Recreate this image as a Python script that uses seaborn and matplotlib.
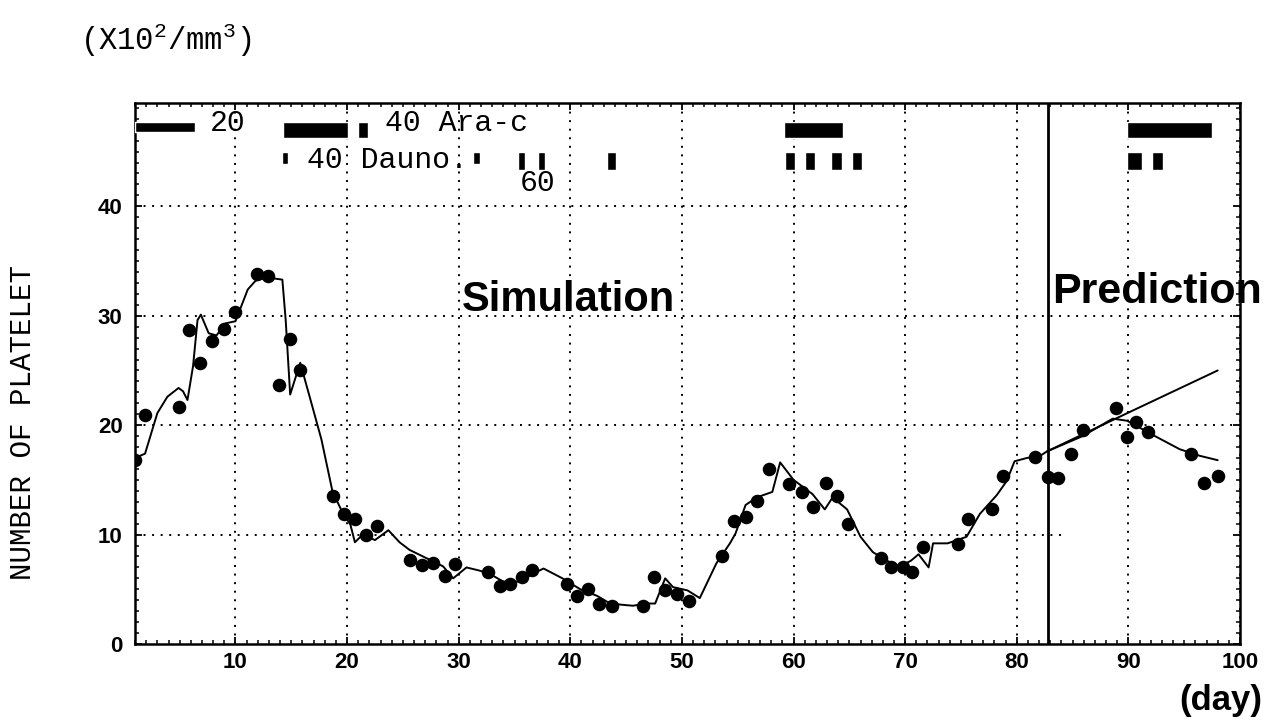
import matplotlib
matplotlib.use("Agg")
import matplotlib.pyplot as plt
from matplotlib.ticker import MultipleLocator, FixedLocator
import pandas as pd
import seaborn as sns

# Observed platelet counts (x10^2/mm^3) by day
obs_day = [1.0, 1.9, 4.9, 5.8, 6.8, 7.9, 9.0, 10.0, 11.9, 12.9, 13.9, 14.9, 15.8,
           18.7, 19.7, 20.7, 21.7, 22.7, 25.6, 26.7, 27.7, 28.8, 29.7, 32.6, 33.7,
           34.6, 35.7, 36.6, 39.7, 40.6, 41.6, 42.6, 43.7, 46.5, 47.5, 48.5, 49.6,
           50.6, 53.6, 54.7, 55.7, 56.7, 57.8, 59.6, 60.8, 61.7, 62.9, 63.9, 64.9,
           67.8, 68.7, 69.8, 70.6, 71.6, 74.7, 75.6, 77.8, 78.8, 81.6, 82.8, 83.7,
           84.9, 85.9, 88.9, 89.9, 90.7, 91.8, 95.6, 96.8, 98.0]
obs_count = [16.8, 20.9, 21.7, 28.7, 25.7, 27.7, 28.8, 30.3, 33.8, 33.6, 23.7, 27.9, 25.0,
             13.5, 11.9, 11.4, 10.0, 10.8, 7.7, 7.2, 7.4, 6.2, 7.3, 6.6, 5.3,
             5.5, 6.1, 6.8, 5.5, 4.4, 5.0, 3.7, 3.5, 3.5, 6.1, 4.9, 4.6,
             3.9, 8.0, 11.2, 11.6, 13.1, 16.0, 14.6, 13.9, 12.5, 14.7, 13.5, 11.0,
             7.9, 7.0, 7.0, 6.6, 8.9, 9.1, 11.4, 12.3, 15.4, 17.1, 15.3, 15.2,
             17.4, 19.6, 21.6, 18.9, 20.3, 19.4, 17.4, 14.7, 15.4]

# Simulated course
sim_day = [1.0, 1.9, 3.0, 3.9, 4.9, 5.3, 5.7, 6.2, 6.6, 6.9, 7.6, 8.3, 9.1, 10.0,
           11.1, 11.8, 12.8, 14.2, 14.5, 14.9, 15.8, 16.7, 17.7, 18.7, 19.6, 20.3,
           20.7, 21.4, 22.5, 23.7, 24.7, 25.6, 28.6, 29.5, 30.7, 31.9, 32.8, 34.0,
           35.5, 36.6, 37.6, 39.3, 40.9, 42.4, 43.4, 44.5, 45.6, 46.9, 47.6, 48.5,
           49.2, 50.5, 51.6, 53.1, 54.3, 54.8, 55.7, 56.7, 58.1, 58.8, 60.0, 61.7,
           62.8, 63.5, 64.8, 66.0, 67.1, 68.4, 69.5, 70.5, 71.2, 72.1, 72.5, 73.8,
           75.5, 76.7, 78.2, 79.1, 79.8, 80.9, 82.1, 82.7, 85.9, 88.6, 89.9, 92.2,
           94.6, 96.4, 98.0]
sim_count = [17.0, 17.4, 21.1, 22.6, 23.4, 23.1, 22.3, 25.4, 29.6, 30.1, 28.4, 28.2, 29.3, 29.5,
             32.4, 33.2, 33.5, 33.3, 29.6, 22.8, 25.7, 22.4, 18.7, 13.9, 12.0, 10.9,
             9.3, 10.0, 9.5, 10.4, 9.3, 8.6, 7.1, 6.0, 7.0, 6.7, 6.4, 5.7,
             5.7, 6.4, 6.9, 6.0, 5.0, 4.4, 3.8, 3.6, 3.5, 3.7, 3.7, 6.0,
             5.2, 4.9, 4.2, 7.4, 9.2, 10.1, 12.7, 13.4, 13.9, 16.6, 15.0, 13.7,
             12.3, 13.4, 12.3, 9.8, 8.4, 7.6, 7.1, 7.6, 8.2, 7.0, 9.2, 9.2,
             9.8, 11.9, 13.6, 14.9, 16.7, 17.0, 17.2, 17.6, 19.0, 20.6, 20.4, 19.1,
             17.8, 17.2, 16.8]

# Predicted course from day 83 on
pred_day = [82.7, 89.9, 98.0]
pred_count = [17.6, 21.1, 25.0]

# Start of the prediction period
pred_start = 82.8

# Treatment schedule (start day, end day, dose)
ara_start = [1.0, 14.3, 21.0, 59.1, 89.9]
ara_end = [6.4, 20.1, 21.9, 64.4, 97.5]
ara_dose = [20, 40, 40, 40, 40]

dauno_start = [14.2, 31.3, 35.3, 37.1, 43.3, 59.2, 61.0, 63.4, 65.2, 89.9, 92.1]
dauno_end = [14.7, 31.9, 35.9, 37.7, 44.1, 60.1, 61.9, 64.3, 66.1, 91.2, 93.1]
dauno_dose = [40, 40, 60, 60, 60, 60, 60, 60, 60, 60, 60]

obs = pd.DataFrame({"day": obs_day, "count": obs_count})
sim = pd.DataFrame({"day": sim_day, "count": sim_count})
pred = pd.DataFrame({"day": pred_day, "count": pred_count})

sns.set_theme(style="ticks")
plt.rcParams["font.family"] = ["Liberation Sans", "DejaVu Sans"]
plt.rcParams["mathtext.default"] = "regular"
plt.rcParams["text.color"] = "black"
plt.rcParams["axes.labelcolor"] = "black"
plt.rcParams["xtick.color"] = "black"
plt.rcParams["ytick.color"] = "black"

MONO = ["Liberation Mono", "DejaVu Sans Mono"]
GRID = dict(color="black", linestyle=(0, (1, 3.4)), linewidth=1.4, zorder=1)

fig = plt.figure(figsize=(12.81, 7.22), dpi=100)
fig.patch.set_facecolor("white")
ax = fig.add_axes([0.1054, 0.1080, 0.8626, 0.7487])
ax.set_facecolor("white")

ax.set_xlim(1, 100)
ax.set_ylim(0, 49.4)

# Dotted reference grid: full vertical guides, hand-ruled horizontal ones
ax.grid(True, axis="x", which="major", **{k: v for k, v in GRID.items() if k != "zorder"})
ax.set_axisbelow(True)
guide_levels = [10, 20, 30, 40]
guide_ends = [84.1, 100, 100, 70.3]
for lvl, end in zip(guide_levels, guide_ends):
    ax.hlines(lvl, 1, end, **GRID)

# Curves and observations
sns.lineplot(data=sim, x="day", y="count", ax=ax, color="black", linewidth=1.4,
             sort=False, estimator=None, zorder=3)
sns.lineplot(data=pred, x="day", y="count", ax=ax, color="black", linewidth=1.4,
             sort=False, estimator=None, zorder=3)
sns.scatterplot(data=obs, x="day", y="count", ax=ax, s=95, color="black",
                edgecolor="black", linewidth=0, zorder=4)

ax.axvline(pred_start, color="black", linewidth=2.0, zorder=3)

# Treatment bars: thickness follows the dose
ara_thick = {20: 0.9, 40: 1.5}
dauno_thick = {40: 1.1, 60: 1.6}
ara_top, dauno_top = 47.7, 44.95
for s, e, d in zip(ara_start, ara_end, ara_dose):
    h = ara_thick[d]
    ax.broken_barh([(s, e - s)], (ara_top - h, h), facecolors="black", zorder=3)
for s, e, d in zip(dauno_start, dauno_end, dauno_dose):
    h = dauno_thick[d]
    ax.broken_barh([(s, e - s)], (dauno_top - h, h), facecolors="black", zorder=3)

ax.text(7.7, 46.9, "20", family=MONO, fontsize=21.5, va="baseline", ha="left")
ax.text(23.4, 46.9, "40 Ara-c", family=MONO, fontsize=21.5, va="baseline", ha="left")
ax.text(16.4, 43.5, "40 Dauno.", family=MONO, fontsize=21.5, va="baseline", ha="left")
ax.text(35.5, 41.4, "60", family=MONO, fontsize=21.5, va="baseline", ha="left")

ax.text(30.3, 30.4, "Simulation", fontsize=30, fontweight="bold", va="baseline", ha="left")
ax.text(83.2, 31.2, "Prediction", fontsize=31, fontweight="bold", va="baseline", ha="left",
        clip_on=False)

# Axes, ticks and labels
ax.xaxis.set_major_locator(FixedLocator(range(10, 101, 10)))
ax.xaxis.set_minor_locator(MultipleLocator(1))
ax.yaxis.set_major_locator(FixedLocator(range(0, 41, 10)))
ax.yaxis.set_minor_locator(MultipleLocator(1))
ax.tick_params(which="both", direction="in", top=True, right=True, color="black")
ax.tick_params(which="major", length=5, width=1.3)
ax.tick_params(which="minor", length=3, width=1.1)
ax.tick_params(axis="y", which="major", pad=9)
ax.tick_params(axis="x", which="major", pad=6)
for lab in ax.get_xticklabels() + ax.get_yticklabels():
    lab.set_fontsize(16)
    lab.set_fontweight("bold")
    lab.set_color("black")

for sp in ax.spines.values():
    sp.set_color("black")
    sp.set_linewidth(1.8)
    sp.set_visible(True)

ax.set_xlabel("(day)", fontsize=25, fontweight="bold", va="center", ha="center")
ax.xaxis.set_label_coords(0.983, -0.1036)
ax.set_ylabel("NUMBER OF PLATELET", family=MONO, fontsize=21, va="center", ha="center")
ax.yaxis.set_label_coords(-0.1014, 0.4107)

fig.text(80 / 1281, 1 - 50 / 722, r"(X10$^{2}$/mm$^{3}$)", family=MONO, fontsize=22,
         va="baseline", ha="left")

fig.savefig("out.png", dpi=100, facecolor="white")
